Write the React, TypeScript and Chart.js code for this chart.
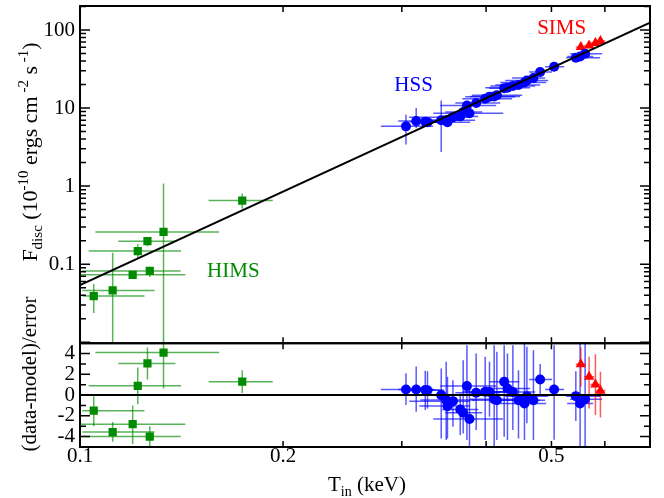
import React, { useEffect, useRef } from 'react';
import { Chart, registerables } from 'chart.js';

Chart.register(...registerables);

const FONT = "'Liberation Serif', 'Times New Roman', serif";

// ---------------- HIMS (green squares) ----------------
const himsT = [0.1048, 0.1118, 0.1197, 0.1218, 0.1259, 0.1269, 0.1330, 0.1740];
const himsTLo = [0.1008, 0.1008, 0.0980, 0.1030, 0.1140, 0.1008, 0.1054, 0.1551];
const himsTHi = [0.1246, 0.1290, 0.1433, 0.1412, 0.1385, 0.1410, 0.1608, 0.1931];
const himsF = [0.039, 0.046, 0.073, 0.147, 0.197, 0.082, 0.259, 0.653];
const himsFLo = [0.0236, 0.005, 0.0659, 0.118, 0.170, 0.0687, 0.005, 0.516];
const himsFHi = [0.0555, 0.1395, 0.0797, 0.180, 0.213, 0.0923, 1.08, 0.803];
const himsRes = [-1.5, -3.56, -2.8, 0.9, 3.05, -4.0, 4.1, 1.3];
const himsResLo = [-3.0, -4.5, -4.7, -0.87, 1.5, -5.0, 0.64, 0.2];
const himsResHi = [-0.1, -2.6, -1.0, 2.66, 4.6, -3.0, 6.0, 2.4];

// ---------------- HSS (blue circles) ----------------
const hssT = [0.3043, 0.3151, 0.3250, 0.3275, 0.3432, 0.3491, 0.3506, 0.3572, 0.3662, 0.3699,
  0.3747, 0.3780, 0.3867, 0.3988, 0.4047, 0.4112, 0.4150, 0.4255, 0.4303, 0.4383,
  0.4468, 0.4560, 0.4598, 0.4702, 0.4811, 0.5046, 0.5434, 0.5514, 0.5609];
const hssTLo = [0.2793, 0.2964, 0.3077, 0.3109, 0.3250, 0.3195, 0.3184, 0.3077, 0.3444, 0.3480,
  0.3421, 0.3340, 0.3601, 0.3688, 0.3726, 0.3788, 0.3814, 0.4044, 0.3988, 0.4058,
  0.4128, 0.4197, 0.4269, 0.4372, 0.4634, 0.4894, 0.5257, 0.5276, 0.5330];
const hssTHi = [0.3339, 0.3351, 0.3432, 0.3467, 0.3662, 0.3853, 0.3788, 0.3788, 0.3894, 0.3948,
  0.4140, 0.4241, 0.4197, 0.4372, 0.4417, 0.4493, 0.4524, 0.4478, 0.4650, 0.4730,
  0.4811, 0.4911, 0.4945, 0.4894, 0.5012, 0.5222, 0.5904, 0.5765, 0.5945];
const hssF = [5.83, 6.8, 6.7, 6.6, 7.0, 7.0, 6.6, 7.6, 7.8, 8.9,
  10.8, 8.6, 11.6, 13.2, 14.0, 14.1, 14.6, 18.0, 18.2, 19.2,
  19.7, 21.2, 22.6, 24.2, 29.0, 33.8, 44.2, 45.8, 49.7];
const hssFLo = [3.4, 5.5, 6.2, 6.1, 2.74, 6.5, 6.1, 7.0, 7.2, 8.2,
  10.0, 7.9, 10.7, 12.2, 13.0, 13.0, 13.5, 16.7, 16.9, 17.8,
  18.3, 19.7, 21.0, 22.5, 27.0, 31.4, 41.1, 42.6, 46.2];
const hssFHi = [8.2, 10.0, 7.3, 7.2, 12.5, 7.6, 7.2, 8.3, 8.5, 9.7,
  11.7, 9.4, 12.6, 14.3, 15.1, 15.3, 15.8, 19.4, 19.6, 20.7,
  21.2, 22.8, 24.3, 26.0, 31.1, 36.3, 47.5, 49.2, 53.4];
const hssRes = [0.55, 0.55, 0.5, 0.46, 0.0, -0.48, -1.06, -0.58, -1.38, -1.7,
  0.87, -2.3, 0.22, 0.32, 0.3, -0.4, -0.5, 1.28, 0.64, 0.3,
  -0.5, -0.8, -0.1, -0.5, 1.5, 0.55, -0.1, -0.8, -0.4];
const hssResLo = [-0.96, -1.6, -1.44, -1.3, -4.17, -4.33, -4.17, -3.04, -3.85, -3.69,
  -4.33, -5.5, -3.37, -4.33, -2.08, -5.5, -4.33, -4.01, -4.33, -3.37,
  -4.17, -4.33, -2.72, -4.33, 0.0, -4.3, -2.5, -5.5, -5.5];
const hssResHi = [2.1, 2.75, 2.34, 2.3, 2.56, 3.21, 1.76, 1.44, 0.16, 3.37,
  4.81, 0.8, 4.01, 3.69, 3.21, 4.81, 4.17, 4.81, 4.01, 4.81,
  2.4, 4.97, 4.65, 4.33, 3.0, 4.8, 2.3, 5.5, 5.5];

// ---------------- SIMS (red triangles) ----------------
const simsT = [0.5528, 0.5686, 0.5810, 0.5910];
const simsTLo = [0.5433, 0.5590, 0.5712, 0.5810];
const simsTHi = [0.5623, 0.5785, 0.5910, 0.6012];
const simsF = [60.4, 63.5, 67.9, 72.1];
const simsFLo = [57.5, 60.0, 64.5, 68.5];
const simsFHi = [66.0, 70.0, 73.5, 78.0];
const simsRes = [2.98, 1.77, 1.03, 0.41];
const simsResLo = [0.8, -1.28, -1.92, -2.15];
const simsResHi = [4.6, 3.69, 3.95, 2.24];

// ---------------- model ----------------
const modelT = [0.1, 0.7];
const modelF = [0.054, 124];
const zeroT = [0.1, 0.7];
const zeroRes = [0, 0];

// ---------------- axes ----------------
const xTickLabels = [0.1, 0.2, 0.5];
const yTickLabels = [0.1, 1, 10, 100];
const resTickLabels = [-4, -2, 0, 2, 4];

// ---------------- annotations ----------------
const noteText = ['HSS', 'SIMS', 'HIMS'];
const noteT = [0.2924, 0.4762, 0.1543];
const noteF = [16.5, 89.7, 0.0683];
const noteColor = ['#0000ff', '#ff0000', '#008b00'];

const BLUE = '#0000ff';
const RED = '#ff0000';
const GREEN = '#008b00';

const pts = (xs: number[], ys: number[]) => xs.map((x, i) => ({ x, y: ys[i] }));

type ErrSet = {
  t: number[]; tLo: number[]; tHi: number[];
  v: number[]; vLo: number[]; vHi: number[];
  axis: string; color: string;
};

const errSets: ErrSet[] = [
  { t: himsT, tLo: himsTLo, tHi: himsTHi, v: himsF, vLo: himsFLo, vHi: himsFHi, axis: 'y', color: 'rgba(0,139,0,0.65)' },
  { t: hssT, tLo: hssTLo, tHi: hssTHi, v: hssF, vLo: hssFLo, vHi: hssFHi, axis: 'y', color: 'rgba(0,0,255,0.65)' },
  { t: simsT, tLo: simsTLo, tHi: simsTHi, v: simsF, vLo: simsFLo, vHi: simsFHi, axis: 'y', color: 'rgba(255,0,0,0.65)' },
  { t: himsT, tLo: himsTLo, tHi: himsTHi, v: himsRes, vLo: himsResLo, vHi: himsResHi, axis: 'y2', color: 'rgba(0,139,0,0.65)' },
  { t: hssT, tLo: hssTLo, tHi: hssTHi, v: hssRes, vLo: hssResLo, vHi: hssResHi, axis: 'y2', color: 'rgba(0,0,255,0.65)' },
  { t: simsT, tLo: simsTLo, tHi: simsTHi, v: simsRes, vLo: simsResLo, vHi: simsResHi, axis: 'y2', color: 'rgba(255,0,0,0.65)' },
];

const errorPlugin = {
  id: 'errbars',
  beforeDatasetsDraw(chart: any) {
    const ctx = chart.ctx;
    const ca = chart.chartArea;
    const xs = chart.scales.x;
    for (const s of errSets) {
      const ys = chart.scales[s.axis];
      ctx.save();
      ctx.beginPath();
      ctx.rect(ca.left, ys.top, ca.right - ca.left, ys.bottom - ys.top);
      ctx.clip();
      ctx.strokeStyle = s.color;
      ctx.lineWidth = 1.5;
      for (let i = 0; i < s.t.length; i++) {
        const px = xs.getPixelForValue(s.t[i]);
        const py = ys.getPixelForValue(s.v[i]);
        ctx.beginPath();
        ctx.moveTo(xs.getPixelForValue(s.tLo[i]), py);
        ctx.lineTo(xs.getPixelForValue(s.tHi[i]), py);
        ctx.stroke();
        ctx.beginPath();
        ctx.moveTo(px, ys.getPixelForValue(s.vLo[i]));
        ctx.lineTo(px, ys.getPixelForValue(s.vHi[i]));
        ctx.stroke();
      }
      ctx.restore();
    }
  },
};

type Seg = { t: string; size: number; dy: number };

function drawRich(ctx: CanvasRenderingContext2D, segs: Seg[], cx: number, cy: number, rot: number) {
  ctx.save();
  ctx.translate(cx, cy);
  ctx.rotate(rot);
  let total = 0;
  for (const s of segs) {
    ctx.font = `${s.size}px ${FONT}`;
    total += ctx.measureText(s.t).width;
  }
  let x = -total / 2;
  ctx.fillStyle = '#000';
  ctx.textBaseline = 'alphabetic';
  ctx.textAlign = 'left';
  for (const s of segs) {
    ctx.font = `${s.size}px ${FONT}`;
    ctx.fillText(s.t, x, s.dy);
    x += ctx.measureText(s.t).width;
  }
  ctx.restore();
}

const framePlugin = {
  id: 'frame',
  afterDatasetsDraw(chart: any) {
    const ctx = chart.ctx;
    const xs = chart.scales.x;
    const ys = chart.scales.y;
    for (let i = 0; i < noteText.length; i++) {
      ctx.save();
      ctx.font = `21px ${FONT}`;
      ctx.fillStyle = noteColor[i];
      ctx.textAlign = 'left';
      ctx.textBaseline = 'alphabetic';
      ctx.fillText(noteText[i], xs.getPixelForValue(noteT[i]), ys.getPixelForValue(noteF[i]));
      ctx.restore();
    }
  },
  afterDraw(chart: any) {
    const ctx = chart.ctx;
    const ca = chart.chartArea;
    const xs = chart.scales.x;
    const ys = chart.scales.y;
    const rs = chart.scales.y2;
    const L = ca.left, R = ca.right;
    ctx.save();
    ctx.strokeStyle = '#000';
    ctx.lineWidth = 1.5;
    ctx.beginPath();
    for (let m = 2; m <= 6; m++) {
      const px = xs.getPixelForValue(m / 10);
      const len = 6;
      for (const [t, b] of [[ys.top, ys.bottom], [rs.top, rs.bottom]]) {
        ctx.moveTo(px, t); ctx.lineTo(px, t + len);
        ctx.moveTo(px, b); ctx.lineTo(px, b - len);
      }
    }
    for (let d = -2; d <= 2; d++) {
      for (let m = 1; m <= 9; m++) {
        const v = m * Math.pow(10, d);
        if (v <= ys.min || v >= ys.max) continue;
        const py = ys.getPixelForValue(v);
        const len = m === 1 ? 10 : 6;
        ctx.moveTo(L, py); ctx.lineTo(L + len, py);
        ctx.moveTo(R, py); ctx.lineTo(R - len, py);
      }
    }
    for (let v = -4; v <= 4; v++) {
      const py = rs.getPixelForValue(v);
      const len = v % 2 === 0 ? 10 : 6;
      ctx.moveTo(L, py); ctx.lineTo(L + len, py);
      ctx.moveTo(R, py); ctx.lineTo(R - len, py);
    }
    ctx.stroke();
    ctx.lineWidth = 2;
    ctx.strokeRect(L, ys.top, R - L, ys.bottom - ys.top);
    ctx.strokeRect(L, rs.top, R - L, rs.bottom - rs.top);
    ctx.restore();

    drawRich(ctx, [
      { t: 'F', size: 22, dy: 0 },
      { t: 'disc', size: 15, dy: 5 },
      { t: ' (10', size: 22, dy: 0 },
      { t: '-10', size: 15, dy: -9 },
      { t: ' ergs cm', size: 22, dy: 0 },
      { t: ' -2', size: 15, dy: -9 },
      { t: ' s', size: 22, dy: 0 },
      { t: ' -1', size: 15, dy: -9 },
      { t: ')', size: 22, dy: 0 },
    ], 37, 152, -Math.PI / 2);
    drawRich(ctx, [{ t: '(data-model)/error', size: 21, dy: 0 }], 36, 374, -Math.PI / 2);
    drawRich(ctx, [
      { t: 'T', size: 21, dy: 0 },
      { t: 'in', size: 14, dy: 5 },
      { t: ' (keV)', size: 21, dy: 0 },
    ], (L + R) / 2 + 2, 491, 0);
  },
};

const near = (v: number, arr: number[]) => arr.some((t) => Math.abs(v - t) <= Math.abs(t) * 1e-6 + 1e-12);

export default function App() {
  const ref = useRef<HTMLCanvasElement>(null);
  useEffect(() => {
    const canvas = ref.current!;
    const tickFont = { family: FONT, size: 21, lineHeight: 1 };
    const chart = new Chart(canvas, {
      type: 'scatter',
      data: {
        datasets: [
          { type: 'line', data: pts(modelT, modelF), yAxisID: 'y', borderColor: '#000', borderWidth: 2, pointRadius: 0, order: 0 } as any,
          { type: 'line', data: pts(zeroT, zeroRes), yAxisID: 'y2', borderColor: '#000', borderWidth: 2, pointRadius: 0, order: 0 } as any,
          { data: pts(himsT, himsF), yAxisID: 'y', pointStyle: 'rect', pointRadius: 5.8, backgroundColor: GREEN, borderColor: GREEN, borderWidth: 0, order: 1 },
          { data: pts(hssT, hssF), yAxisID: 'y', pointStyle: 'circle', pointRadius: 5, backgroundColor: BLUE, borderColor: BLUE, borderWidth: 0, order: 1 },
          { data: pts(simsT, simsF), yAxisID: 'y', pointStyle: 'triangle', pointRadius: 6, backgroundColor: RED, borderColor: RED, borderWidth: 0, order: 1 },
          { data: pts(himsT, himsRes), yAxisID: 'y2', pointStyle: 'rect', pointRadius: 5.8, backgroundColor: GREEN, borderColor: GREEN, borderWidth: 0, order: 1 },
          { data: pts(hssT, hssRes), yAxisID: 'y2', pointStyle: 'circle', pointRadius: 5, backgroundColor: BLUE, borderColor: BLUE, borderWidth: 0, order: 1 },
          { data: pts(simsT, simsRes), yAxisID: 'y2', pointStyle: 'triangle', pointRadius: 6, backgroundColor: RED, borderColor: RED, borderWidth: 0, order: 1 },
        ],
      },
      options: {
        responsive: false,
        animation: false,
        devicePixelRatio: 1,
        layout: { padding: { left: 0, right: 14, top: 5, bottom: 0 } },
        plugins: { legend: { display: false }, tooltip: { enabled: false } },
        scales: {
          x: {
            type: 'logarithmic', position: 'bottom', min: 0.1, max: 0.7,
            grid: { display: false, drawTicks: false }, border: { display: false },
            ticks: {
              autoSkip: false, maxRotation: 0, minRotation: 0, padding: -1,
              font: tickFont, color: '#000',
              callback: (v: any) => (near(Number(v), xTickLabels) ? String(Number(v)) : ''),
            },
            afterFit: (s: any) => { s.height = 51; s.paddingLeft = 0; s.paddingRight = 0; },
          },
          y: {
            type: 'logarithmic', position: 'left', min: 0.0097, max: 203,
            stack: 'v', stackWeight: 338, weight: 2,
            grid: { display: false, drawTicks: false }, border: { display: false },
            ticks: {
              autoSkip: false, padding: 5, font: tickFont, color: '#000',
              callback: (v: any) => (near(Number(v), yTickLabels) ? String(Number(v)) : ''),
            },
            afterFit: (s: any) => { s.width = 80; s.paddingTop = 0; s.paddingBottom = 0; },
          },
          y2: {
            type: 'linear', position: 'left', min: -5, max: 5,
            stack: 'v', stackWeight: 104, weight: 1,
            grid: { display: false, drawTicks: false }, border: { display: false },
            ticks: {
              autoSkip: false, stepSize: 1, padding: 5, font: tickFont, color: '#000',
              callback: (v: any) => (resTickLabels.includes(Number(v)) ? String(Number(v)) : ''),
            },
            afterFit: (s: any) => { s.width = 80; s.paddingTop = 0; s.paddingBottom = 0; },
          },
        },
      } as any,
      plugins: [errorPlugin, framePlugin],
    });
    return () => chart.destroy();
  }, []);
  return (
    <div style={{ position: 'fixed', left: 0, top: 0, width: 664, height: 498, background: '#fff' }}>
      <canvas ref={ref} width={664} height={498} style={{ display: 'block' }} />
    </div>
  );
}
